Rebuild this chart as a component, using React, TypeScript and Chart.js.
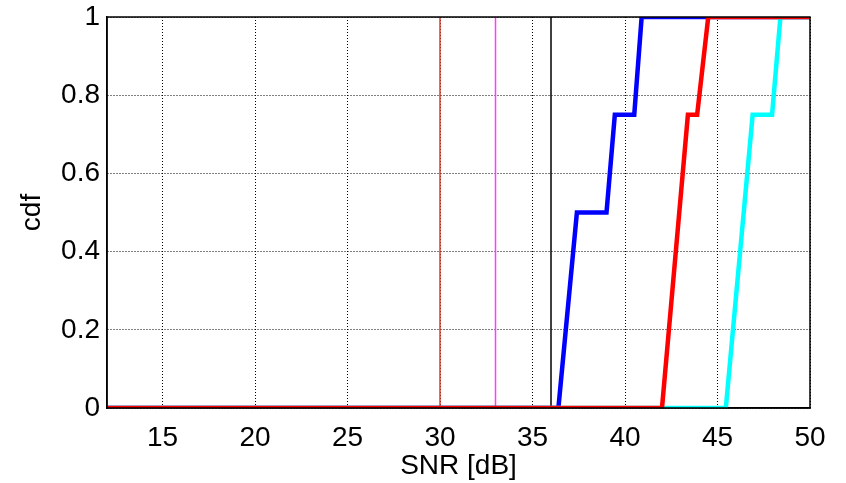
import React, { useEffect, useRef } from "react";
import { Chart, registerables } from "chart.js";

Chart.register(...registerables);

type P = { x: number; y: number };

const xTicks = [15, 20, 25, 30, 35, 40, 45, 50];
const yTicks = [0, 0.2, 0.4, 0.6, 0.8, 1];

const blueX = [12, 36.4, 37.4, 39.0, 39.45, 40.5, 40.9, 50];
const blueY = [0, 0, 0.5, 0.5, 0.75, 0.75, 1, 1];

const redX = [12, 42.0, 43.4, 43.9, 44.5, 50];
const redY = [0, 0, 0.75, 0.75, 1, 1];

const cyanX = [12, 45.45, 46.9, 47.95, 48.4, 50];
const cyanY = [0, 0, 0.75, 0.75, 1, 1];

const refLinesX = [30, 33, 36];
const refColors = ["#d8402e", "#ff3cff", "#000000"];

const toPts = (xs: number[], ys: number[]): P[] => xs.map((x, i) => ({ x, y: ys[i] }));

const boxPlugin = {
  id: "boxPlugin",
  afterDatasetsDraw(chart: any) {
    const { ctx, chartArea } = chart;
    ctx.save();
    ctx.strokeStyle = "#000";
    ctx.lineWidth = 1.5;
    ctx.strokeRect(chartArea.left, chartArea.top, chartArea.right - chartArea.left, chartArea.bottom - chartArea.top);
    ctx.restore();
  },
};

export default function App() {
  const ref = useRef<HTMLCanvasElement | null>(null);

  useEffect(() => {
    if (!ref.current) return;
    const font = { family: "'Liberation Sans', Arial, sans-serif", size: 28 };
    const datasets: any[] = [
      {
        data: toPts(redX, redY),
        borderColor: "#ff0000",
        borderWidth: 4.5,
        order: 0,
      },
      {
        data: toPts(cyanX, cyanY),
        borderColor: "#00ffff",
        borderWidth: 4.5,
        order: 1,
      },
      {
        data: toPts(blueX, blueY),
        borderColor: "#0000ff",
        borderWidth: 4.5,
        order: 2,
      },
      ...refLinesX.map((x, i) => ({
        data: [
          { x, y: 0 },
          { x, y: 1 },
        ],
        borderColor: refColors[i],
        borderWidth: 1.5,
        order: 3,
      })),
    ];
    const chart = new Chart(ref.current, {
      type: "line",
      data: {
        datasets: datasets.map((d) => ({
          ...d,
          pointRadius: 0,
          fill: false,
          tension: 0,
          borderJoinStyle: "miter",
        })),
      },
      options: {
        animation: false,
        responsive: false,
        events: [],
        layout: { padding: { top: 17, right: 36, bottom: 0, left: 0 } },
        plugins: { legend: { display: false }, tooltip: { enabled: false } },
        scales: {
          x: {
            type: "linear",
            min: 12,
            max: 50,
            afterBuildTicks: (s: any) => {
              s.ticks = xTicks.map((v) => ({ value: v }));
            },
            afterFit: (s: any) => {
              s.height = 75;
              s.paddingLeft = 0;
              s.paddingRight = 0;
            },
            ticks: {
              font,
              color: "#000",
              padding: 13,
              maxRotation: 0,
              autoSkip: false,
              callback: (v: any) => String(v),
            },
            grid: { color: "#000", lineWidth: 1, drawTicks: false },
            border: { color: "#000", width: 1.5, dash: [1, 2] },
            title: {
              display: true,
              text: "SNR [dB]",
              font,
              color: "#000",
              padding: { top: 0, bottom: 0 },
            },
          },
          y: {
            type: "linear",
            min: 0,
            max: 1,
            afterBuildTicks: (s: any) => {
              s.ticks = yTicks.map((v) => ({ value: v }));
            },
            afterFit: (s: any) => {
              s.width = 107;
              s.paddingTop = 0;
              s.paddingBottom = 0;
            },
            ticks: {
              font,
              color: "#000",
              padding: 7,
              autoSkip: false,
              callback: (v: any) => String(v),
            },
            grid: { color: "#000", lineWidth: 1, drawTicks: false },
            border: { color: "#000", width: 1.5, dash: [1, 2] },
            title: {
              display: true,
              text: "cdf",
              font,
              color: "#000",
              padding: { top: 15, bottom: 0 },
            },
          },
        },
      },
      plugins: [boxPlugin],
    } as any);
    return () => chart.destroy();
  }, []);

  return (
    <div style={{ position: "fixed", left: 0, top: 0, width: 846, height: 483, background: "#fff" }}>
      <canvas ref={ref} width={846} height={483} style={{ width: 846, height: 483, display: "block" }} />
    </div>
  );
}
